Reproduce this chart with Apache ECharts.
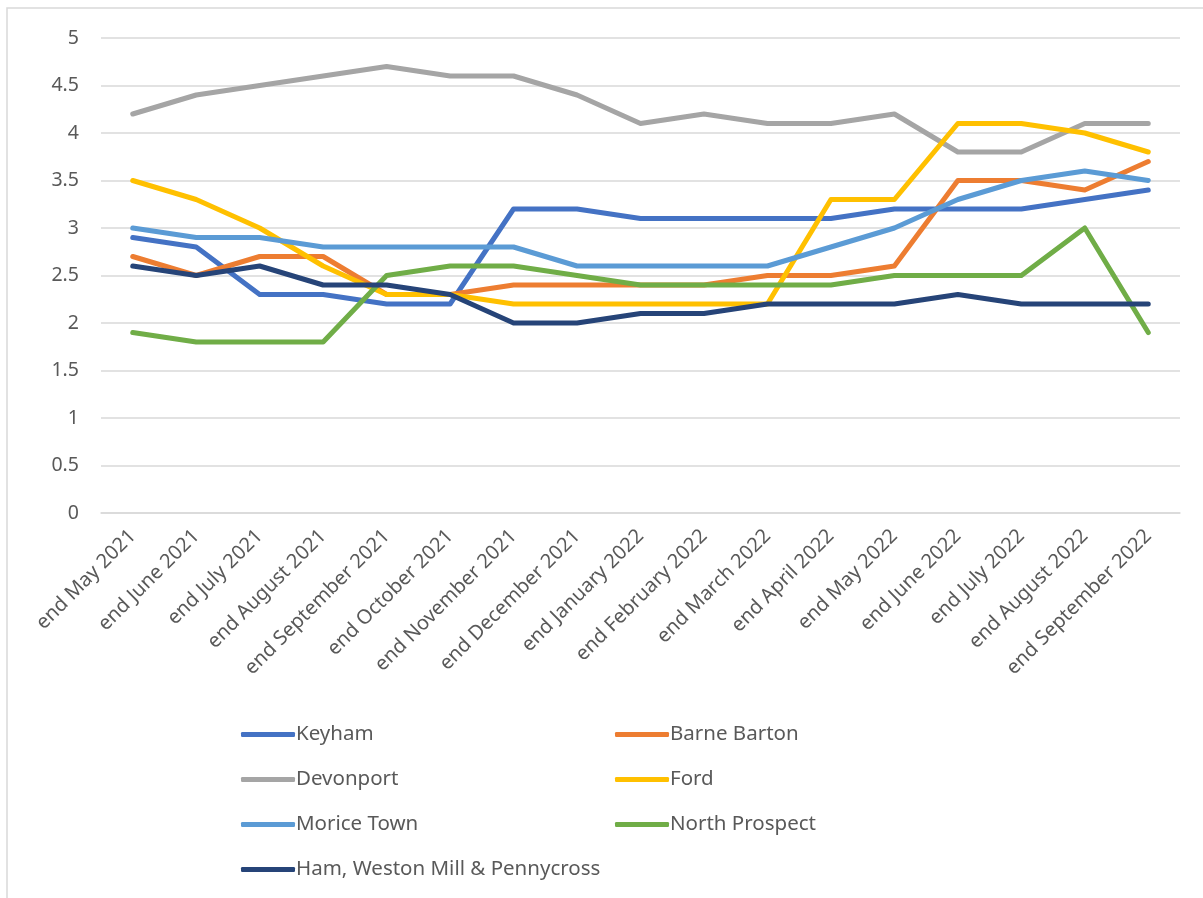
<!DOCTYPE html>
<html>
<head>
<meta charset="utf-8">
<script src="https://cdn.jsdelivr.net/npm/echarts@6/dist/echarts.min.js"></script>
<style>html,body{margin:0;padding:0;background:#fff}#c{width:1203px;height:898px}</style>
</head>
<body>
<div id="c"></div>
<script>
const categories = ['end May 2021','end June 2021','end July 2021','end August 2021','end September 2021','end October 2021','end November 2021','end December 2021','end January 2022','end February 2022','end March 2022','end April 2022','end May 2022','end June 2022','end July 2022','end August 2022','end September 2022'];
const keyham        = [2.9,2.8,2.3,2.3,2.2,2.2,3.2,3.2,3.1,3.1,3.1,3.1,3.2,3.2,3.2,3.3,3.4];
const barneBarton   = [2.7,2.5,2.7,2.7,2.3,2.3,2.4,2.4,2.4,2.4,2.5,2.5,2.6,3.5,3.5,3.4,3.7];
const devonport     = [4.2,4.4,4.5,4.6,4.7,4.6,4.6,4.4,4.1,4.2,4.1,4.1,4.2,3.8,3.8,4.1,4.1];
const ford          = [3.5,3.3,3.0,2.6,2.3,2.3,2.2,2.2,2.2,2.2,2.2,3.3,3.3,4.1,4.1,4.0,3.8];
const moriceTown    = [3.0,2.9,2.9,2.8,2.8,2.8,2.8,2.6,2.6,2.6,2.6,2.8,3.0,3.3,3.5,3.6,3.5];
const northProspect = [1.9,1.8,1.8,1.8,2.5,2.6,2.6,2.5,2.4,2.4,2.4,2.4,2.5,2.5,2.5,3.0,1.9];
const hamWeston     = [2.6,2.5,2.6,2.4,2.4,2.3,2.0,2.0,2.1,2.1,2.2,2.2,2.2,2.3,2.2,2.2,2.2];
const yTicks = [0,0.5,1,1.5,2,2.5,3,3.5,4,4.5,5];

const seriesDefs = [
  ['Keyham', keyham, '#4472C4'],
  ['Barne Barton', barneBarton, '#ED7D31'],
  ['Devonport', devonport, '#A5A5A5'],
  ['Ford', ford, '#FFC000'],
  ['Morice Town', moriceTown, '#5B9BD5'],
  ['North Prospect', northProspect, '#70AD47'],
  ['Ham, Weston Mill & Pennycross', hamWeston, '#264478']
];
const FONT = 'Noto Sans';
const TXT = '#595959';
const chart = echarts.init(document.getElementById('c'), null, {renderer:'canvas'});
const legendCommon = {
  orient:'vertical', itemWidth:54, itemHeight:5, itemGap:24,
  icon:'roundRect',
  textStyle:{fontFamily:FONT, fontSize:20.5, color:TXT, padding:[0,0,0,-4]},
  selectedMode:false
};
chart.setOption({
  animation:false,
  backgroundColor:'#fff',
  graphic:[{type:'rect', shape:{x:7,y:8,width:1220,height:920}, style:{fill:'none', stroke:'#d9d9d9', lineWidth:1.5}, silent:true}],
  grid:{left:101, right:23, top:38, bottom:385, containLabel:false},
  legend:[
    Object.assign({left:236, top:719, data:['Keyham','Devonport','Morice Town','Ham, Weston Mill & Pennycross']}, legendCommon),
    Object.assign({left:610, top:719, data:['Barne Barton','Ford','North Prospect']}, legendCommon)
  ],
  xAxis:{
    type:'category', data:categories, boundaryGap:true,
    axisLine:{show:true, lineStyle:{color:'#d9d9d9', width:1.5}},
    axisTick:{show:false},
    axisLabel:{rotate:45, interval:0, margin:20, fontFamily:FONT, fontSize:20, color:TXT}
  },
  yAxis:{
    type:'value', min:yTicks[0], max:yTicks[yTicks.length-1], interval:0.5,
    axisLine:{show:false}, axisTick:{show:false},
    splitLine:{lineStyle:{color:'#d9d9d9', width:1.5}},
    axisLabel:{margin:22, fontFamily:FONT, fontSize:19.5, color:TXT}
  },
  series: seriesDefs.map(([name, data, color]) => ({
    name, type:'line', data, symbol:'none', smooth:false,
    lineStyle:{color, width:5, cap:'round', join:'round'},
    itemStyle:{color}
  }))
});
</script>
</body>
</html>
